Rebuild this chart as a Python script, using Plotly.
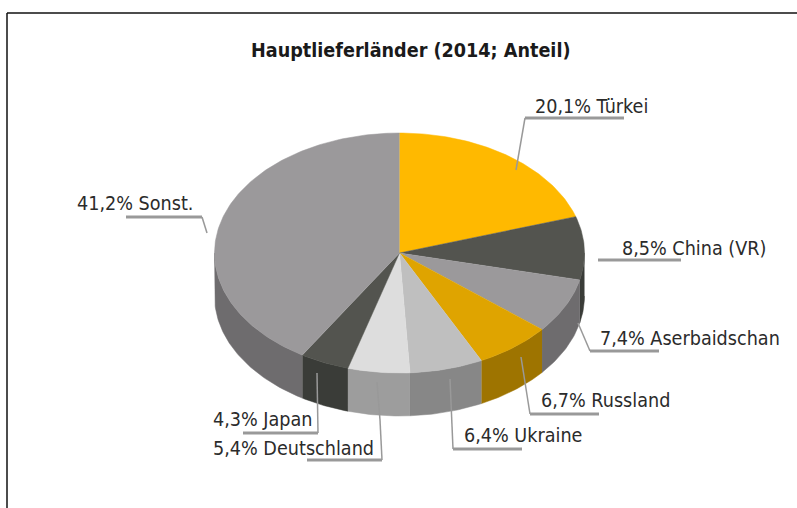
import math
import plotly.graph_objects as go

categories = ["Türkei", "China (VR)", "Aserbaidschan", "Russland", "Ukraine", "Deutschland", "Japan", "Sonst."]
values = [20.1, 8.5, 7.4, 6.7, 6.4, 5.4, 4.3, 41.2]
top_colors = ["#FFB900", "#53544F", "#9B999B", "#DFA400", "#BFBFBF", "#DDDDDD", "#53544F", "#9B999B"]
side_colors = ["#B08000", "#3A3C38", "#6E6C6E", "#9E7400", "#878787", "#9D9D9D", "#3A3C38", "#6E6C6E"]
title_text = "Hauptlieferländer (2014; Anteil)"

# layout constants, in page pixels
CX, CY, RX, RY, DEPTH = 399.5, 253, 185, 120, 43
label_pos = [(533, 106), (620, 248), (598, 338), (539, 400), (462, 435), (211, 448), (211, 419), (75, 203)]
leaders = [
    [(516, 170), (525, 118), (624, 118)],
    [(598, 260), (681, 260)],
    [(578, 323), (590, 351), (659, 351)],
    [(521, 357), (530, 414), (599, 414)],
    [(450, 379), (453, 449), (522, 449)],
    [(377, 382), (380, 420), (382, 460), (307, 460)],
    [(317, 373), (318, 433), (243, 433)],
    [(207, 233), (202, 217), (126, 217)],
]
LEADER_COLOR = "#999999"
FONT = "DejaVu Sans Condensed, DejaVu Sans"


def pt(deg, dy=0):
    r = math.radians(deg)
    return CX + RX * math.sin(r), CY - RY * math.cos(r) + dy


def arc(a, b):
    n = max(2, int(abs(b - a)) + 2)
    return [a + (b - a) * i / (n - 1) for i in range(n)]


fig = go.Figure()
total = sum(values)
angles = [0]
for v in values:
    angles.append(angles[-1] + v / total * 360)


def poly(xy, color):
    fig.add_trace(go.Scatter(
        x=[p[0] for p in xy], y=[p[1] for p in xy], mode="lines", fill="toself",
        fillcolor=color, line=dict(color=color, width=0.5), hoverinfo="skip", showlegend=False,
    ))


for i in range(len(values)):
    a, b = max(angles[i], 90), min(angles[i + 1], 270)
    if b > a:
        deg = arc(a, b)
        poly([pt(d) for d in deg] + [pt(d, DEPTH) for d in reversed(deg)], side_colors[i])
for i in range(len(values)):
    poly([(CX, CY)] + [pt(d) for d in arc(angles[i], angles[i + 1])], top_colors[i])

for path in leaders:
    for p, q in zip(path, path[1:]):
        flat = p[1] == q[1]
        fig.add_trace(go.Scatter(
            x=[p[0], q[0]], y=[p[1], q[1]], mode="lines",
            line=dict(color=LEADER_COLOR, width=3 if flat else 1.5),
            hoverinfo="skip", showlegend=False,
        ))

for cat, val, (lx, ly) in zip(categories, values, label_pos):
    fig.add_annotation(
        x=lx, y=ly, xref="x", yref="y", xanchor="left", yanchor="middle", showarrow=False,
        text=f"{val:.1f}".replace(".", ",") + f"% {cat}",
        font=dict(family=FONT, size=19.6, color="#2b2b2b"),
    )
fig.add_annotation(
    x=410.5, y=50, xref="x", yref="y", xanchor="center", yanchor="middle", showarrow=False,
    text=f"<b>{title_text}</b>", font=dict(family=FONT, size=19.6, color="#1a1a1a"),
)

# page frame
fig.add_shape(type="line", x0=7, y0=13, x1=797, y1=13, line=dict(color="#111111", width=1.5))
fig.add_shape(type="line", x0=7, y0=13, x1=7, y1=508, line=dict(color="#111111", width=1.5))

fig.update_layout(
    width=797, height=508, margin=dict(l=0, r=0, t=0, b=0),
    paper_bgcolor="white", plot_bgcolor="white", showlegend=False,
    xaxis=dict(range=[0, 797], visible=False, fixedrange=True),
    yaxis=dict(range=[508, 0], visible=False, fixedrange=True),
)
fig.write_html(
    "out.html", config={"displayModeBar": False},
    post_script="document.body.style.margin='0';document.body.style.overflow='hidden';",
)
